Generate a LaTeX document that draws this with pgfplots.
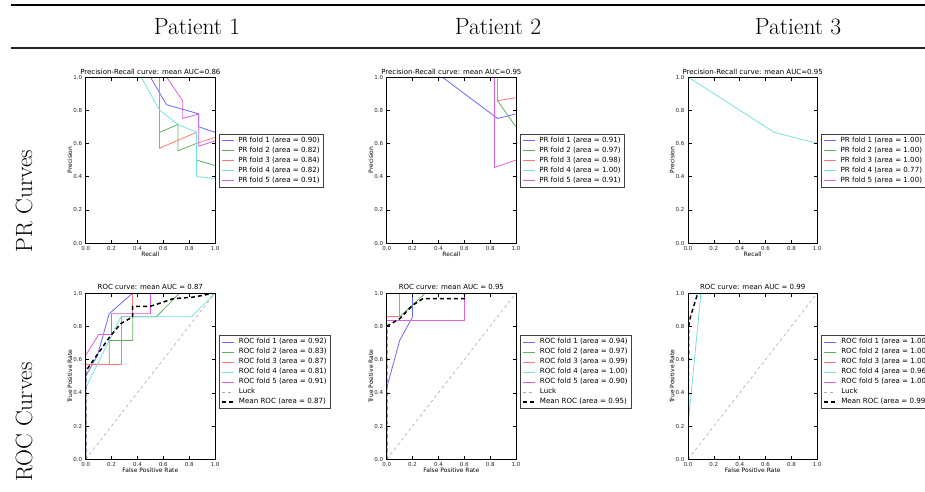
\documentclass[border=0pt]{standalone}
\usepackage{fontspec}
\usepackage{pgfplots}
\pgfplotsset{compat=1.18}
\newfontfamily\mpl{DejaVu Sans}
\definecolor{fB}{RGB}{105,105,255}
\definecolor{fG}{RGB}{95,175,95}
\definecolor{fR}{RGB}{255,120,120}
\definecolor{fC}{RGB}{120,225,225}
\definecolor{fM}{RGB}{220,95,220}
\definecolor{fLuck}{RGB}{170,170,170}
\pgfplotsset{
 mpl/.style={
  scale only axis, width=129.3pt, anchor=south west,
  xmin=0,xmax=1,ymin=0,ymax=1,
  xtick={0,0.2,0.4,0.6,0.8,1}, ytick={0,0.2,0.4,0.6,0.8,1},
  /pgf/number format/.cd, fixed, fixed zerofill, precision=1, assume math mode=true, /pgfplots/.cd,
  tick label style={font=\mpl\fontsize{5.5}{6.5}\selectfont, text=black!85},
  label style={font=\mpl\fontsize{6}{7}\selectfont},
  every axis title/.style={font=\mpl\fontsize{7}{8}\selectfont, at={(axis description cs:0.5,1)}, anchor=base, yshift=2.5pt},
  xlabel style={at={(axis description cs:0.5,0)}, anchor=base, yshift=-13pt},
  ylabel style={at={(axis description cs:-0.105,0.5)}, anchor=base},
  major tick length=3.5pt, tick style={black, line width=0.5pt},
  axis line style={line width=0.7pt},
  axis on top=true,
  legend cell align=left,
  legend image code/.code={\draw[##1] (0pt,0pt) -- (12pt,0pt);},
  legend style={font=\mpl\fontsize{7.1}{8}\selectfont, draw=black!75, line width=0.5pt,
    inner xsep=2pt, inner ysep=2pt, row sep=0.8pt,
    nodes={inner sep=1.2pt, text height=5.2pt, text depth=1.6pt},
    /tikz/every odd column/.append style={column sep=3pt}},
 },
 prstyle/.style={mpl, height=166pt, xlabel={Recall}, ylabel={Precision},
   legend style={at={(axis description cs:1.031,0.657)}, anchor=north west}},
 rocstyle/.style={mpl, height=166.3pt, xlabel={False Positive Rate}, ylabel={True Positive Rate},
   every axis title/.append style={yshift=0.7pt},
   legend style={at={(axis description cs:1.031,0.747)}, anchor=north west}},
 ln/.style={line width=0.8pt},
 luck/.style={fLuck, line width=0.6pt, dash pattern=on 3pt off 3pt},
 meanroc/.style={black, line width=1.5pt, dash pattern=on 4pt off 3pt},
}
\begin{document}
\begin{tikzpicture}
\path[use as bounding box] (0pt,0pt) rectangle (925pt,-491pt);
\clip (0pt,0pt) rectangle (925pt,-491pt);
\draw[line width=2pt] (11pt,-5pt) -- (925pt,-5pt);
\draw[line width=1.2pt, black!85] (11pt,-48pt) -- (925pt,-48pt);
\node[font=\fontsize{23.5}{28}\selectfont, anchor=base] at (197pt,-34pt) {Patient 1};
\node[font=\fontsize{23.5}{28}\selectfont, anchor=base] at (498pt,-34pt) {Patient 2};
\node[font=\fontsize{23.5}{28}\selectfont, anchor=base] at (798pt,-34pt) {Patient 3};
\node[font=\fontsize{23.5}{28}\selectfont, anchor=base, rotate=90] at (32pt,-201pt) {PR Curves};
\node[font=\fontsize{23.5}{28}\selectfont, anchor=base, rotate=90] at (32pt,-422pt) {ROC Curves};

% ---------- PR Patient 1
\begin{axis}[prstyle, at={(85.7pt,-243pt)}, title={Precision-Recall curve: mean AUC=0.86}]
\addplot[fB, ln] coordinates {(0,1) (0.5,1) (0.625,0.8333) (0.875,0.7778) (0.875,0.7) (1,0.6667)};
\addlegendentry{PR fold 1 (area = 0.90)}
\addplot[fG, ln] coordinates {(0,1) (0.5714,1) (0.5714,0.6667) (0.7143,0.7143) (0.7143,0.5556) (0.8571,0.6) (0.8571,0.5) (1,0.4667)};
\addlegendentry{PR fold 2 (area = 0.82)}
\addplot[fR, ln] coordinates {(0,1) (0.5714,1) (0.5714,0.5714) (0.8571,0.6667) (0.8571,0.6) (1,0.6364)};
\addlegendentry{PR fold 3 (area = 0.84)}
\addplot[fC, ln] coordinates {(0,1) (0.4286,1) (0.5714,0.8) (0.7143,0.7143) (0.8571,0.6667) (0.8571,0.4) (1,0.3889)};
\addlegendentry{PR fold 4 (area = 0.82)}
\addplot[fM, ln] coordinates {(0,1) (0.625,1) (0.75,0.8571) (0.75,0.75) (0.875,0.7778) (0.875,0.5833) (1,0.6154)};
\addlegendentry{PR fold 5 (area = 0.91)}
\end{axis}

% ---------- PR Patient 2
\begin{axis}[prstyle, at={(386.7pt,-243pt)}, title={Precision-Recall curve: mean AUC=0.95}]
\addplot[fB, ln] coordinates {(0,1) (0.4286,1) (0.8571,0.75) (1,0.7778)};
\addlegendentry{PR fold 1 (area = 0.91)}
\addplot[fG, ln] coordinates {(0,1) (0.8571,1) (0.8571,0.8571) (1,0.7)};
\addlegendentry{PR fold 2 (area = 0.97)}
\addplot[fR, ln] coordinates {(0,1) (0.8571,1) (0.8571,0.8571) (1,0.875)};
\addlegendentry{PR fold 3 (area = 0.98)}
\addplot[fC, ln] coordinates {(0,1) (1,1)};
\addlegendentry{PR fold 4 (area = 1.00)}
\addplot[fM, ln] coordinates {(0,1) (0.8333,1) (0.8333,0.4545) (1,0.5)};
\addlegendentry{PR fold 5 (area = 0.91)}
\end{axis}

% ---------- PR Patient 3
\begin{axis}[prstyle, at={(688pt,-243pt)}, title={Precision-Recall curve: mean AUC=0.95}]
\addplot[fB, ln] coordinates {(0,1) (1,1)};
\addlegendentry{PR fold 1 (area = 1.00)}
\addplot[fG, ln] coordinates {(0,1) (1,1)};
\addlegendentry{PR fold 2 (area = 1.00)}
\addplot[fR, ln] coordinates {(0,1) (1,1)};
\addlegendentry{PR fold 3 (area = 1.00)}
\addplot[fC, ln] coordinates {(0,1) (0.6667,0.6667) (1,0.6)};
\addlegendentry{PR fold 4 (area = 0.77)}
\addplot[fM, ln] coordinates {(0,1) (1,1)};
\addlegendentry{PR fold 5 (area = 1.00)}
\end{axis}

% ---------- ROC Patient 1
\begin{axis}[rocstyle, at={(85.7pt,-459.3pt)}, title={ROC curve: mean AUC = 0.87}]
\addplot[fB, ln] coordinates {(0,0) (0,0.5) (0.0909,0.625) (0.1818,0.875) (0.3636,1) (1,1)};
\addlegendentry{ROC fold 1 (area = 0.92)}
\addplot[fG, ln] coordinates {(0,0) (0,0.5714) (0.1818,0.5714) (0.1818,0.7143) (0.3636,0.7143) (0.3636,0.8571) (0.5455,0.8571) (0.7273,1) (1,1)};
\addlegendentry{ROC fold 2 (area = 0.83)}
\addplot[fR, ln] coordinates {(0,0) (0,0.5714) (0.2727,0.5714) (0.2727,0.8571) (0.3636,0.8571) (0.3636,1) (1,1)};
\addlegendentry{ROC fold 3 (area = 0.87)}
\addplot[fC, ln] coordinates {(0,0) (0,0.4286) (0.2727,0.8571) (0.8182,0.8571) (1,1)};
\addlegendentry{ROC fold 4 (area = 0.81)}
\addplot[fM, ln] coordinates {(0,0) (0,0.625) (0.1,0.75) (0.2,0.75) (0.2,0.875) (0.5,0.875) (0.5,1) (1,1)};
\addlegendentry{ROC fold 5 (area = 0.91)}
\addplot[luck] coordinates {(0,0) (1,1)};
\addlegendentry{Luck}
\addplot[meanroc] coordinates {(0,0) (0,0.53) (0.09,0.63) (0.19,0.74) (0.27,0.815) (0.3636,0.857) (0.3636,0.92) (0.5,0.92) (0.68,0.966) (0.83,0.975) (1,1)};
\addlegendentry{Mean ROC (area = 0.87)}
\end{axis}

% ---------- ROC Patient 2
\begin{axis}[rocstyle, at={(386.7pt,-459.3pt)}, title={ROC curve: mean AUC = 0.95}]
\addplot[fB, ln] coordinates {(0,0) (0,0.4286) (0.1,0.7143) (0.2,0.8571) (0.2,1) (1,1)};
\addlegendentry{ROC fold 1 (area = 0.94)}
\addplot[fG, ln] coordinates {(0,0) (0,0.8571) (0.1,0.8571) (0.3,1) (1,1)};
\addlegendentry{ROC fold 2 (area = 0.97)}
\addplot[fR, ln] coordinates {(0,0) (0,0.8571) (0.1,0.8571) (0.1,1) (1,1)};
\addlegendentry{ROC fold 3 (area = 0.99)}
\addplot[fC, ln] coordinates {(0,0) (0,1) (1,1)};
\addlegendentry{ROC fold 4 (area = 1.00)}
\addplot[fM, ln] coordinates {(0,0) (0,0.8333) (0.6,0.8333) (0.6,1) (1,1)};
\addlegendentry{ROC fold 5 (area = 0.90)}
\addplot[luck] coordinates {(0,0) (1,1)};
\addlegendentry{Luck}
\addplot[meanroc] coordinates {(0,0) (0,0.8) (0.1,0.845) (0.2,0.926) (0.28,0.966) (0.6,0.966) (0.6,1) (1,1)};
\addlegendentry{Mean ROC (area = 0.95)}
\end{axis}

% ---------- ROC Patient 3
\begin{axis}[rocstyle, at={(688pt,-459.3pt)}, title={ROC curve: mean AUC = 0.99}]
\addplot[fB, ln] coordinates {(0,0) (0,1) (1,1)};
\addlegendentry{ROC fold 1 (area = 1.00)}
\addplot[fG, ln] coordinates {(0,0) (0,1) (1,1)};
\addlegendentry{ROC fold 2 (area = 1.00)}
\addplot[fR, ln] coordinates {(0,0) (0,1) (1,1)};
\addlegendentry{ROC fold 3 (area = 1.00)}
\addplot[fC, ln] coordinates {(0,0) (0,0.2) (0.1,1) (1,1)};
\addlegendentry{ROC fold 4 (area = 0.96)}
\addplot[fM, ln] coordinates {(0,0) (0,1) (1,1)};
\addlegendentry{ROC fold 5 (area = 1.00)}
\addplot[luck] coordinates {(0,0) (1,1)};
\addlegendentry{Luck}
\addplot[meanroc] coordinates {(0,0) (0.005,0.8) (0.02,0.86) (0.07,0.985) (0.1,1) (1,1)};
\addlegendentry{Mean ROC (area = 0.99)}
\end{axis}
\end{tikzpicture}
\end{document}
